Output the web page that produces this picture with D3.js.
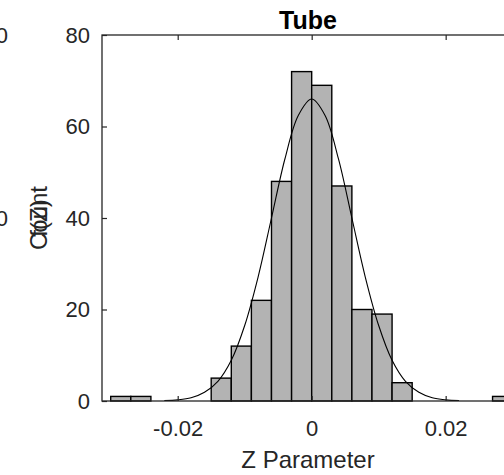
<!DOCTYPE html>
<html>
<head>
<meta charset="utf-8">
<script src="https://cdn.jsdelivr.net/npm/d3@7"></script>
<style>
  body { margin: 0; background: #fff; }
  text { font-family: "Liberation Sans", Arial, Helvetica, sans-serif; fill: #262626; }
</style>
</head>
<body>
<div id="chart"></div>
<script>
// histogram bins (left edge of each bin) and counts
const binWidth = 0.003
const binLo = [-0.030, -0.027, -0.015, -0.012, -0.009, -0.006, -0.003, 0.000, 0.003, 0.006, 0.009, 0.012, 0.027]
const counts = [1, 1, 5, 12, 22, 48, 72, 69, 47, 20, 19, 4, 1]

// fitted curve
const fitZ = [-0.022, -0.020, -0.018, -0.016, -0.014, -0.012, -0.010, -0.008, -0.006, -0.004, -0.002, 0.000,
              0.002, 0.004, 0.006, 0.008, 0.010, 0.012, 0.014, 0.016, 0.018, 0.020, 0.022]
const fitF = [0.1, 0.25, 0.7, 1.9, 4.3, 8.9, 16.5, 27.1, 40.0, 52.9, 62.4, 66.0,
              62.4, 52.9, 40.0, 27.1, 16.5, 8.9, 4.3, 1.9, 0.7, 0.25, 0.1]

// ticks and labels
const xTicks = [-0.02, 0, 0.02]
const xTickLabels = ['-0.02', '0', '0.02']
const yTicks = [0, 20, 40, 60, 80]
const titleText = 'Tube'
const xLabelText = 'Z Parameter'
const yLabelTexts = ['Count', 'f(Z)']

////////SETUP////////
const width = 504
const height = 475
const axLeft = 102, axRight = 514, axTop = 35, axBottom = 401
const ink = '#262626'

const svg = d3.select('#chart').append('svg')
    .attr('width', width)
    .attr('height', height)

svg.append('rect').attr('width', width).attr('height', height).attr('fill', '#fff')

const x = d3.scaleLinear().domain([-0.0313, 0.0302]).range([axLeft, axRight])
const y = d3.scaleLinear().domain([0, 80]).range([axBottom, axTop])

////////BARS////////
const bars = svg.append('g').attr('id', 'bars')
bars.selectAll('rect').data(binLo).enter().append('rect')
    .attr('x', function(d){ return x(d) })
    .attr('width', function(d){ return x(d + binWidth) - x(d) })
    .attr('y', function(d, i){ return y(counts[i]) })
    .attr('height', function(d, i){ return y(0) - y(counts[i]) })
    .attr('fill', '#b3b3b3')
    .attr('stroke', '#000')
    .attr('stroke-width', 1.4)

////////FIT LINE////////
const line = d3.line()
    .x(function(d){ return x(d[0]) })
    .y(function(d){ return y(d[1]) })
    .curve(d3.curveCatmullRom.alpha(0.5))
svg.append('path')
    .datum(fitZ.map(function(z, i){ return [z, fitF[i]] }))
    .attr('d', line)
    .attr('fill', 'none')
    .attr('stroke', '#000')
    .attr('stroke-width', 1.1)

////////AXES////////
const xAxisB = svg.append('g').attr('transform', 'translate(0,' + axBottom + ')')
    .call(d3.axisBottom(x).tickValues(xTicks).tickFormat(function(d, i){ return xTickLabels[i] })
        .tickSize(-5).tickPadding(19))
const xAxisT = svg.append('g').attr('transform', 'translate(0,' + axTop + ')')
    .call(d3.axisTop(x).tickValues(xTicks).tickFormat('').tickSize(-5))
const yAxisL = svg.append('g').attr('transform', 'translate(' + axLeft + ',0)')
    .call(d3.axisLeft(y).tickValues(yTicks).tickSize(-5).tickPadding(12))

for (let g of [xAxisB, xAxisT, yAxisL]){
    g.select('.domain').remove()
    g.selectAll('line').attr('stroke', ink).attr('stroke-width', 1.2)
    g.selectAll('text').style('font-size', '22px').attr('fill', ink)
        .style('font-family', '"Liberation Sans", Arial, sans-serif')
}

svg.append('rect')
    .attr('x', axLeft).attr('y', axTop)
    .attr('width', axRight - axLeft).attr('height', axBottom - axTop)
    .attr('fill', 'none').attr('stroke', ink).attr('stroke-width', 1.3)

////////TEXT////////
const midX = (axLeft + axRight) / 2
svg.append('text').text(titleText)
    .attr('x', midX).attr('y', 29)
    .attr('text-anchor', 'middle')
    .style('font-size', '25px').style('font-weight', 'bold').style('fill', '#000')

svg.append('text').text(xLabelText)
    .attr('x', midX).attr('y', 468)
    .attr('text-anchor', 'middle')
    .style('font-size', '24px')

svg.selectAll('.yLabel').data(yLabelTexts).enter().append('text')
    .attr('class', 'yLabel')
    .text(function(d){ return d })
    .attr('text-anchor', 'middle')
    .attr('transform', 'translate(47,' + y(40) + ') rotate(-90)')
    .style('font-size', '24px')

// stray labels of the neighbouring panel, cut by the left edge
svg.selectAll('.strayLabel').data([80, 40]).enter().append('text')
    .attr('class', 'strayLabel')
    .text('0')
    .attr('x', 8)
    .attr('y', function(d){ return y(d) })
    .attr('dy', '0.35em')
    .attr('text-anchor', 'end')
    .style('font-size', '22px')
</script>
</body>
</html>
